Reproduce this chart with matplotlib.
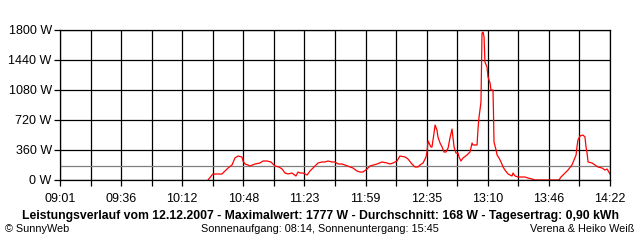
#!/usr/bin/env python3
"""SunnyWeb daily power curve, 12.12.2007."""

import matplotlib
matplotlib.use("Agg")
import matplotlib.pyplot as plt
import numpy as np

# minutes after 09:01 and power in W
minutes = [
    86.4, 88.7, 89.3, 94.5, 96.3, 98.1, 100.4, 102.1, 103.9, 106.2,
    106.8, 108.0, 109.7, 110.9, 113.8, 116.7, 118.5, 120.8, 123.1, 124.3,
    125.5, 127.8, 129.6, 131.3, 133.1, 135.4, 137.7, 138.9, 140.1, 141.8,
    144.2, 145.9, 148.8, 150.6, 152.9, 154.7, 156.4, 158.8, 160.5, 162.3,
    164.6, 166.3, 169.3, 171.0, 173.3, 175.1, 176.8, 179.2, 180.9, 185.0,
    187.9, 190.9, 192.6, 194.4, 196.7, 198.4, 201.4, 203.1, 205.4, 207.2,
    208.9, 210.1, 211.9, 213.6, 214.2, 214.8, 215.4, 216.5, 217.1, 218.3,
    218.9, 220.0, 220.6, 221.8, 223.0, 224.1, 225.3, 226.5, 227.6, 228.8,
    229.4, 230.0, 231.1, 232.3, 232.9, 234.0, 235.2, 237.5, 239.3, 240.5,
    241.0, 243.4, 244.0, 244.5, 245.7, 246.0, 246.3, 246.9, 247.5, 248.0,
    249.2, 249.8, 251.0, 251.5, 252.7, 253.0, 253.3, 254.5, 255.1, 256.2,
    257.4, 258.6, 259.7, 261.5, 263.8, 264.4, 265.6, 267.3, 271.4, 273.1,
    275.5, 277.2, 289.5, 291.2, 292.4, 293.6, 295.3, 296.5, 298.8, 300.0,
    301.2, 301.7, 302.3, 303.5, 305.2, 306.4, 307.0, 307.6, 308.2, 310.5,
    312.2, 314.0, 316.3, 318.1, 319.3, 321.0,
]
watts = [
    0, 60, 72, 72, 108, 144, 180, 264, 288, 276,
    228, 192, 180, 168, 192, 204, 228, 228, 216, 192,
    168, 156, 132, 84, 72, 84, 48, 96, 84, 84,
    60, 108, 168, 204, 216, 216, 228, 216, 216, 192,
    192, 180, 156, 144, 108, 96, 96, 132, 168, 192,
    216, 204, 192, 204, 228, 288, 276, 252, 192, 156,
    156, 180, 204, 276, 336, 468, 444, 396, 396, 564,
    660, 600, 516, 444, 396, 336, 336, 384, 504, 612,
    504, 396, 324, 324, 276, 228, 264, 300, 336, 444,
    420, 420, 624, 744, 936, 1344, 1764, 1776, 1716, 1416,
    1356, 1236, 1164, 1080, 1080, 804, 456, 360, 300, 264,
    216, 156, 120, 72, 48, 84, 48, 36, 36, 24,
    12, 0, 0, 0, 36, 60, 96, 120, 180, 240,
    300, 396, 480, 528, 540, 516, 396, 324, 216, 204,
    180, 156, 144, 120, 132, 72,
]
average = 168
time_labels = ["09:01", "09:36", "10:12", "10:48", "11:23",
               "11:59", "12:35", "13:10", "13:46", "14:22"]
y_ticks = [0, 360, 720, 1080, 1440, 1800]
span = 321

title = ("Leistungsverlauf vom 12.12.2007 - Maximalwert: 1777 W - "
         "Durchschnitt: 168 W - Tagesertrag: 0,90 kWh")

plt.rcParams["font.family"] = ["Liberation Sans", "DejaVu Sans"]

fig = plt.figure(figsize=(6.4, 2.4), dpi=100)
ax = fig.add_axes([60 / 640, 60 / 240, 550 / 640, 150 / 240])

major = np.linspace(0, span, len(time_labels))
minor = np.linspace(0, span, 2 * (len(time_labels) - 1) + 1)

for m in minor:
    ax.axvline(m, color="black", lw=0.9, zorder=1)
for v in y_ticks:
    ax.axhline(v, color="black", lw=0.9, zorder=1)
ax.axhline(average, color="#808080", lw=0.9, zorder=1.5)

ax.plot(minutes, watts, color="#ff0000", lw=0.9, zorder=2)

ax.set_xlim(0, span)
ax.set_ylim(0, 1800)
ax.set_xticks(major)
ax.set_xticklabels(time_labels, fontsize=9)
ax.set_xticks(minor, minor=True)
ax.set_yticks(y_ticks)
ax.set_yticklabels([f"{v} W" for v in y_ticks], fontsize=9)
ax.tick_params(axis="both", which="both", length=4, width=0.9, pad=2,
               color="black")
ax.tick_params(axis="x", pad=5)
for s in ax.spines.values():
    s.set_linewidth(0.9)
    s.set_zorder(3)

fig.text(0.5, 1 - 216 / 240, title, ha="center", va="center",
         fontsize=8.8, fontweight="bold")
fig.text(5 / 640, 1 - 229 / 240, "© SunnyWeb", ha="left", va="center",
         fontsize=7.8)
fig.text(0.5, 1 - 229 / 240, "Sonnenaufgang: 08:14, Sonnenuntergang: 15:45",
         ha="center", va="center", fontsize=7.8)
fig.text(634 / 640, 1 - 229 / 240, "Verena & Heiko Weiß", ha="right",
         va="center", fontsize=7.8)

fig.savefig("out.png", dpi=100, facecolor="white")
